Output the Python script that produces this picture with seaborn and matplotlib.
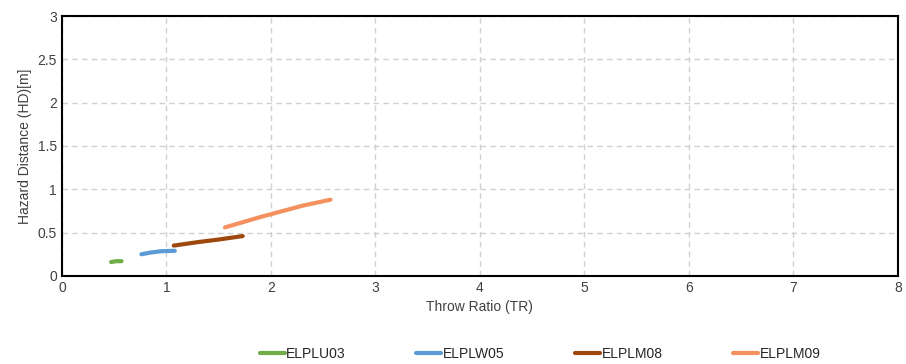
import matplotlib
matplotlib.use('Agg')
import matplotlib.pyplot as plt
import seaborn as sns
import pandas as pd

# data
names = ['ELPLU03', 'ELPLW05', 'ELPLM08', 'ELPLM09']
colors = ['#70AD47', '#5B9BD5', '#9E480E', '#F4915E']

tr_u03 = [0.47, 0.52, 0.57]
hd_u03 = [0.16, 0.17, 0.17]
tr_w05 = [0.76, 0.85, 0.95, 1.08]
hd_w05 = [0.25, 0.27, 0.285, 0.29]
tr_m08 = [1.07, 1.3, 1.5, 1.73]
hd_m08 = [0.35, 0.39, 0.42, 0.46]
tr_m09 = [1.56, 1.9, 2.3, 2.57]
hd_m09 = [0.56, 0.68, 0.81, 0.88]

frames = []
for n, x, y in zip(names, [tr_u03, tr_w05, tr_m08, tr_m09], [hd_u03, hd_w05, hd_m08, hd_m09]):
    frames.append(pd.DataFrame({'TR': x, 'HD': y, 'model': n}))
df = pd.concat(frames, ignore_index=True)

sns.set_style('white')
plt.rcParams['font.family'] = ['Liberation Sans', 'DejaVu Sans']

fig, ax = plt.subplots(figsize=(9.06, 3.64), dpi=100)
fig.subplots_adjust(left=0.0684, right=0.991, top=0.956, bottom=0.242)

sns.lineplot(data=df, x='TR', y='HD', hue='model', palette=colors, linewidth=3,
             sort=False, estimator=None, ax=ax, solid_capstyle='round')

ax.set_xlim(0, 8)
ax.set_ylim(0, 3)
ax.set_xticks(range(0, 9))
ax.set_yticks([0, 0.5, 1, 1.5, 2, 2.5, 3])
ax.set_yticklabels(['0', '0.5', '1', '1.5', '2', '2.5', '3'])
ax.grid(True, color='#d0d0d0', linestyle=(0, (4, 3)), linewidth=1)
for s in ax.spines.values():
    s.set_color('black')
    s.set_linewidth(1.5)
ax.tick_params(axis='both', labelsize=10, colors='#404040', length=0)
ax.tick_params(axis='x', direction='in', length=4, width=1, color='black')
ax.set_xlabel('Throw Ratio (TR)', size=10, color='#404040')
ax.set_ylabel('Hazard Distance (HD)[m]', size=10, color='#404040')

ax.legend(loc='upper center', bbox_to_anchor=(0.572, -0.225), ncol=4, frameon=False,
          fontsize=10, handlelength=1.8, handletextpad=0.1, columnspacing=5.1)

fig.savefig('out.png', dpi=100)
